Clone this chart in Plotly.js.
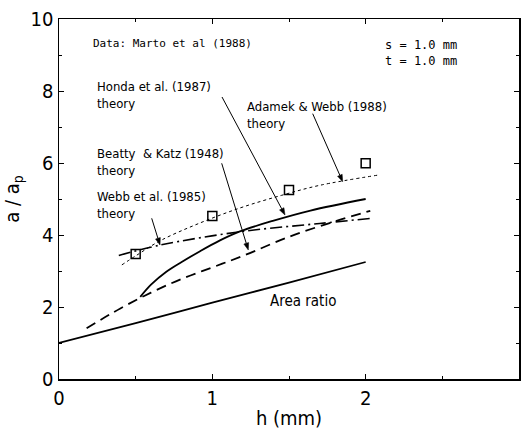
<!DOCTYPE html>
<html>
<head>
<meta charset="utf-8">
<script src="https://cdn.plot.ly/plotly-3.0.1.min.js"></script>
<style>html,body{margin:0;padding:0;background:#fff;}</style>
</head>
<body>
<div id="chart" style="width:522px;height:433px;"></div>
<script>
// ---- data ----
const areaX   = [0, 0.5, 1.0, 1.5, 2.0];
const areaY   = [1.0, 1.55, 2.12, 2.68, 3.25];
const beattyX = [0.18, 0.4, 0.6, 0.8, 1.0, 1.2, 1.5, 1.8, 2.03];
const beattyY = [1.41, 1.96, 2.4, 2.78, 3.1, 3.42, 3.95, 4.38, 4.67];
const hondaX  = [0.53, 0.6, 0.7, 0.8, 0.92, 1.05, 1.18, 1.4, 1.64, 2.0];
const hondaY  = [2.28, 2.62, 2.98, 3.25, 3.55, 3.85, 4.1, 4.4, 4.68, 5.0];
const webbX   = [0.39, 0.66, 1.18, 1.7, 2.03];
const webbY   = [3.43, 3.72, 4.09, 4.32, 4.46];
const adamekX = [0.41, 0.5, 0.66, 0.9, 1.18, 1.45, 1.7, 2.09];
const adamekY = [3.17, 3.42, 3.84, 4.3, 4.75, 5.1, 5.38, 5.67];
const martoX  = [0.5, 1.0, 1.5, 2.0];
const martoY  = [3.47, 4.53, 5.25, 5.99];
const xTickVals = [0, 1, 2, 3];
const yTickVals = [0, 2, 4, 6, 8, 10];

const FONT = "'DejaVu Sans Condensed', 'Liberation Sans Narrow', 'Liberation Sans', sans-serif";
const MONO = "'DejaVu Sans Mono', 'Liberation Mono', monospace";

// pixel helpers for annotation placement (plot area: x 59..519, y 19..379)
const L = 59, R = 519, T = 19, B = 379;
const px2x = p => (p - L) / (R - L) * 3;
const py2y = p => (B - p) / (B - T) * 10;

const traces = [
  {x: areaX, y: areaY, mode: 'lines', line: {color: '#000', width: 1.8, shape: 'spline'}},
  {x: beattyX, y: beattyY, mode: 'lines', line: {color: '#000', width: 1.8, dash: '10px,6px', shape: 'spline'}},
  {x: hondaX, y: hondaY, mode: 'lines', line: {color: '#000', width: 1.8, shape: 'spline'}},
  {x: webbX, y: webbY, mode: 'lines', line: {color: '#000', width: 1.6, dash: '12px,4px,2px,4px', shape: 'spline'}},
  {x: adamekX, y: adamekY, mode: 'lines', line: {color: '#000', width: 1, dash: 'dot', shape: 'spline'}},
  {x: martoX, y: martoY, mode: 'markers',
   marker: {symbol: 'square-open', size: 9, color: '#000', line: {width: 1.5, color: '#000'}}}
];

function txt(text, px, py, font, size) {
  return {text: text, x: px2x(px), y: py2y(py), xref: 'x', yref: 'y',
          xanchor: 'left', yanchor: 'middle', align: 'left', showarrow: false,
          font: {family: font || FONT, size: size || 13, color: '#000'}};
}

// leader arrows: line + small filled head, specified in pixel space (tail -> tip)
function arrowShapes(x0, y0, x1, y1) {
  const dx = x1 - x0, dy = y1 - y0, len = Math.hypot(dx, dy);
  const ux = dx / len, uy = dy / len, hl = 7, hw = 2.5;
  const bx = x1 - ux * hl, by = y1 - uy * hl;
  const p1 = [bx - uy * hw, by + ux * hw], p2 = [bx + uy * hw, by - ux * hw];
  return [
    {type: 'line', xref: 'x', yref: 'y', x0: px2x(x0), y0: py2y(y0), x1: px2x(bx), y1: py2y(by),
     line: {color: '#000', width: 1}},
    {type: 'path', xref: 'x', yref: 'y', fillcolor: '#000', line: {color: '#000', width: 0.5},
     path: 'M' + px2x(x1) + ',' + py2y(y1) + ' L' + px2x(p1[0]) + ',' + py2y(p1[1]) +
           ' L' + px2x(p2[0]) + ',' + py2y(p2[1]) + ' Z'}
  ];
}

const annotations = [
  txt('Data: Marto et al (1988)', 91, 43, MONO, 11),
  txt('s = 1.0 mm<br>t = 1.0 mm', 383, 53, MONO, 12),
  txt('Honda et al. (1987)<br>theory', 95, 95),
  txt('Adamek & Webb (1988)<br>theory', 245, 115),
  txt('Beatty  & Katz (1948)<br>theory', 95, 162),
  txt('Webb et al. (1985)<br>theory', 95, 205),
  txt('Area ratio', 268, 301, FONT, 15)
];

const shapes = [].concat(
  arrowShapes(222, 97, 285, 215),
  arrowShapes(312.7, 113.7, 342.7, 181.7),
  arrowShapes(221.7, 163.3, 248.3, 250),
  arrowShapes(151.7, 218.3, 160, 245)
);

const axisCommon = {
  showline: true, linecolor: '#000', linewidth: 1.5, mirror: 'allticks',
  showgrid: false, zeroline: false, ticks: 'inside', ticklen: 5, tickwidth: 1, tickcolor: '#000',
  tickfont: {family: FONT, size: 20, color: '#000'}
};

const layout = {
  width: 522, height: 433,
  margin: {l: 59, r: 3, t: 19, b: 54},
  paper_bgcolor: '#fff', plot_bgcolor: '#fff',
  showlegend: false,
  xaxis: Object.assign({}, axisCommon, {
    range: [0, 3], tickvals: xTickVals, ticktext: xTickVals.map(String),
    minor: {tickvals: [0.5, 1.5, 2.5], ticks: 'inside', ticklen: 3, tickcolor: '#000'},
    title: {text: 'h (mm)', font: {family: FONT, size: 20, color: '#000'}, standoff: 2}
  }),
  yaxis: Object.assign({}, axisCommon, {
    range: [0, 10], tickvals: yTickVals, ticktext: yTickVals.map(String),
    minor: {tickvals: [1, 3, 5, 7, 9], ticks: 'inside', ticklen: 3, tickcolor: '#000'},
    title: {text: 'a / a<sub>p</sub>', font: {family: FONT, size: 20, color: '#000'}, standoff: 8}
  }),
  annotations: annotations,
  shapes: shapes
};

Plotly.newPlot('chart', traces, layout, {displayModeBar: false, staticPlot: true});
</script>
</body>
</html>
